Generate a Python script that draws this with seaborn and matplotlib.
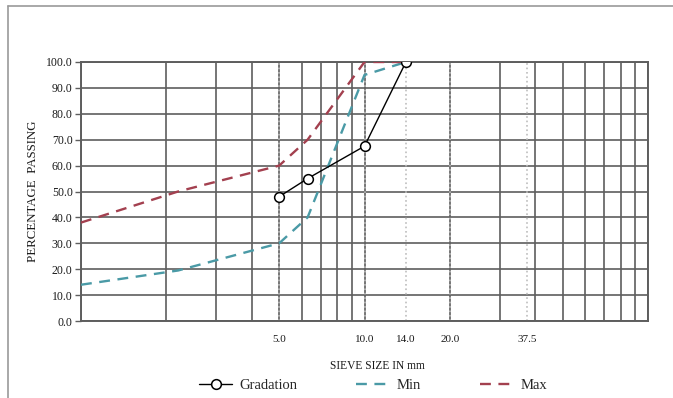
import matplotlib
matplotlib.use("Agg")
import matplotlib.pyplot as plt
import seaborn as sns
import pandas as pd
from matplotlib.lines import Line2D
from matplotlib.ticker import NullFormatter, LogLocator

# Data
grad_size = [5.0, 6.3, 10.0, 14.0]
grad_pass = [48.0, 55.0, 67.5, 100.0]

min_size = [1.0, 2.2, 5.0, 6.3, 10.0, 14.0]
min_pass = [14.0, 19.5, 30.0, 40.0, 95.0, 100.0]

max_size = [1.0, 2.2, 5.0, 6.3, 10.0, 14.0]
max_pass = [38.0, 50.0, 60.0, 70.0, 100.0, 100.0]

xtick_vals = [5.0, 10.0, 14.0, 20.0, 37.5]
xtick_labels = ["5.0", "10.0", "14.0", "20.0", "37.5"]
ytick_vals = [0, 10, 20, 30, 40, 50, 60, 70, 80, 90, 100]

sns.set_theme(style="white")
plt.rcParams['font.family'] = ['Liberation Serif', 'DejaVu Serif']

fig = plt.figure(figsize=(6.73, 3.98), dpi=100)
ax = fig.add_axes([81/673, 1-321/398, (648-81)/673, (321-62)/398])

ax.set_xscale('log')
ax.set_xlim(1, 100)
ax.set_ylim(0, 100)

grid_col = '#5e5e5e'
ax.xaxis.set_major_locator(LogLocator(base=10, subs=[1, 2, 3, 4, 5, 6, 7, 8, 9], numticks=30))
ax.xaxis.set_major_formatter(NullFormatter())
ax.xaxis.set_minor_formatter(NullFormatter())
ax.grid(True, which='major', axis='x', color=grid_col, lw=1.2)
ax.grid(True, which='major', axis='y', color=grid_col, lw=1.2)
ax.set_yticks(ytick_vals)
ax.set_yticklabels([f"{v:.1f}" for v in ytick_vals], fontsize=8.5, color='#1a1a1a')
ax.tick_params(axis='y', length=4, color=grid_col, width=1, pad=2, left=True)
ax.tick_params(axis='x', length=0, bottom=False)

for xv in xtick_vals:
    ax.axvline(xv, color='#bdbdbd', lw=1.2, ls=':', zorder=1)
for xv, lab in zip(xtick_vals, xtick_labels):
    ax.text(xv, -0.07, lab, transform=ax.get_xaxis_transform(), ha='center', va='center',
            fontsize=8, color='#1a1a1a')

for s in ax.spines.values():
    s.set_color(grid_col)
    s.set_linewidth(1.4)

df_min = pd.DataFrame({"size": min_size, "pass": min_pass})
df_max = pd.DataFrame({"size": max_size, "pass": max_pass})
df_grad = pd.DataFrame({"size": grad_size, "pass": grad_pass})

sns.lineplot(data=df_min, x="size", y="pass", ax=ax, color='#4a9aa6', lw=1.7,
             linestyle=(0, (4.6, 3.2)), label="Min", zorder=3)
sns.lineplot(data=df_max, x="size", y="pass", ax=ax, color='#a3404f', lw=1.7,
             linestyle=(0, (4.6, 3.2)), label="Max", zorder=3)
sns.lineplot(data=df_grad, x="size", y="pass", ax=ax, color='black', lw=1.0,
             marker='o', markersize=7, markerfacecolor='white', markeredgecolor='black',
             markeredgewidth=1.1, label="Gradation", zorder=4)

ax.set_xlabel("SIEVE SIZE IN mm", fontsize=8.3, color='#1a1a1a')
ax.xaxis.set_label_coords((377-81)/(648-81), -(360-321)/(321-62))
ax.set_ylabel("PERCENTAGE  PASSING", fontsize=9.3, color='#1a1a1a')
ax.yaxis.set_label_coords(-(81-39)/(648-81), 0.5)

h, l = ax.get_legend_handles_labels()
order = [l.index("Gradation"), l.index("Min"), l.index("Max")]
ax.legend([h[i] for i in order], [l[i] for i in order], loc='center',
          bbox_to_anchor=(373/673, 1-385/398), bbox_transform=fig.transFigure,
          ncol=3, frameon=False, fontsize=10.5, handlelength=2.3, columnspacing=4.0,
          handletextpad=0.5)

# outer frame lines
fig.add_artist(Line2D([8/673, 1], [1-6/398, 1-6/398], color='#9a9a9a', lw=1.2, transform=fig.transFigure))
fig.add_artist(Line2D([8/673, 8/673], [0, 1-6/398], color='#9a9a9a', lw=1.2, transform=fig.transFigure))

fig.savefig("out.png", dpi=100)
